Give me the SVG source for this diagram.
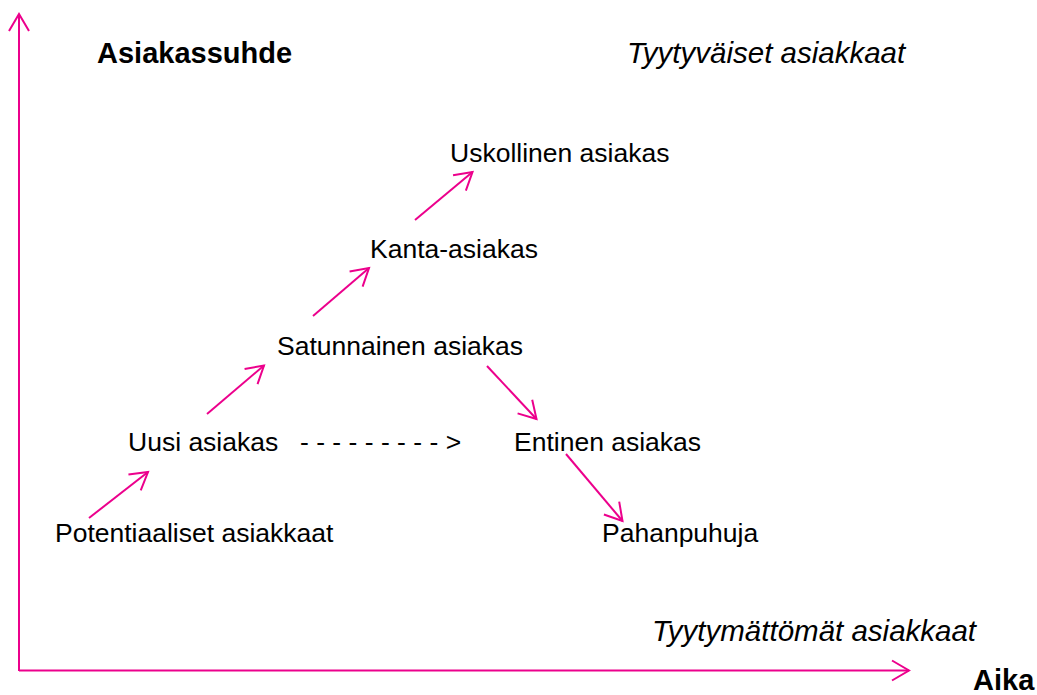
<svg xmlns="http://www.w3.org/2000/svg" width="1037" height="695" viewBox="0 0 1037 695">
<style>
.t{font-family:"Liberation Sans",Arial,sans-serif;font-size:26.5px;fill:#000}
.b{font-family:"Liberation Sans",Arial,sans-serif;font-size:29px;font-weight:bold;fill:#000}
.i{font-family:"Liberation Sans",Arial,sans-serif;font-size:29.5px;font-style:italic;fill:#000}
.c{stroke:#EC008C;stroke-width:2;fill:none}
</style>
<defs>
<marker id="ah" markerUnits="userSpaceOnUse" markerWidth="40" markerHeight="40" refX="0" refY="0" viewBox="-20 -20 40 40" orient="auto" overflow="visible">
<path d="M-17,-10 L0,0 L-17,10" fill="none" stroke="#EC008C" stroke-width="2"/>
</marker>
</defs>
<rect width="1037" height="695" fill="#fff"/>
<g id="axes">
<line class="c" x1="19" y1="671" x2="19" y2="14" marker-end="url(#ah)"/>
<line class="c" x1="19" y1="670.5" x2="909" y2="670.5" marker-end="url(#ah)"/>
</g>
<g id="connectors">
<line class="c" x1="89" y1="518" x2="148" y2="472" marker-end="url(#ah)"/>
<line class="c" x1="207" y1="414" x2="264" y2="365.5" marker-end="url(#ah)"/>
<line class="c" x1="313" y1="316" x2="369" y2="268" marker-end="url(#ah)"/>
<line class="c" x1="415" y1="220" x2="472.5" y2="172" marker-end="url(#ah)"/>
<line class="c" x1="487" y1="366" x2="536.5" y2="419" marker-end="url(#ah)"/>
<line class="c" x1="566" y1="454" x2="622.5" y2="521" marker-end="url(#ah)"/>
<text class="t" x="300" y="451">- - - - - - - - - &gt;</text>
</g>
<g id="asiakassuhde"><text class="b" x="97" y="63">Asiakassuhde</text></g>
<g id="tyytyvaiset"><text class="i" x="627" y="63">Tyytyväiset asiakkaat</text></g>
<g id="uskollinen"><text class="t" x="450" y="162">Uskollinen asiakas</text></g>
<g id="kanta"><text class="t" x="370" y="258">Kanta-asiakas</text></g>
<g id="satunnainen"><text class="t" x="277" y="355">Satunnainen asiakas</text></g>
<g id="uusi"><text class="t" x="128" y="451">Uusi asiakas</text></g>
<g id="entinen"><text class="t" x="514" y="451">Entinen asiakas</text></g>
<g id="potentiaaliset"><text class="t" x="55" y="542">Potentiaaliset asiakkaat</text></g>
<g id="pahanpuhuja"><text class="t" x="602" y="542">Pahanpuhuja</text></g>
<g id="tyytymattomat"><text class="i" x="652" y="641">Tyytymättömät asiakkaat</text></g>
<g id="aika"><text class="b" x="973" y="690">Aika</text></g>
</svg>
